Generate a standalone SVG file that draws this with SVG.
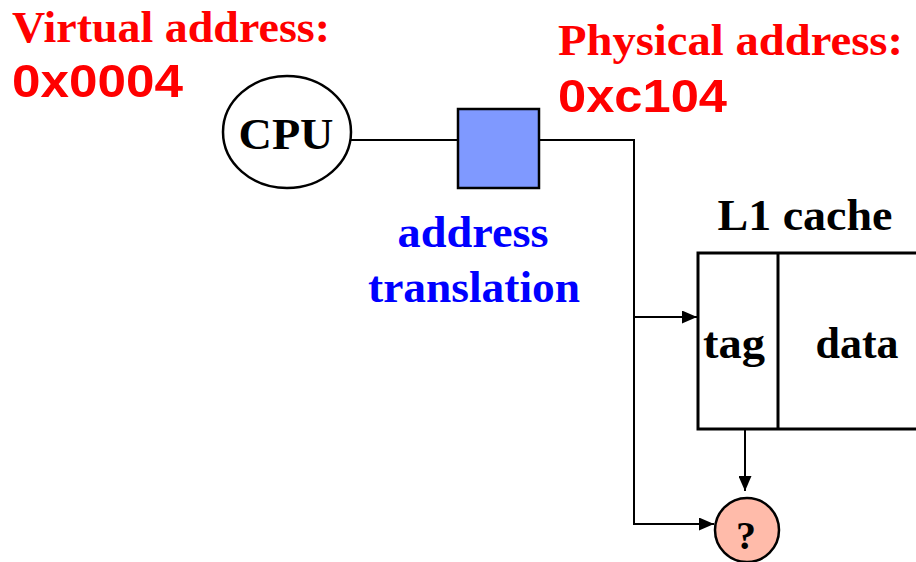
<svg xmlns="http://www.w3.org/2000/svg" width="916" height="562" viewBox="0 0 916 562">
<defs>
<marker id="arr" viewBox="0 0 10 10" refX="10" refY="5" markerWidth="15" markerHeight="13" markerUnits="userSpaceOnUse" orient="auto" preserveAspectRatio="none">
<path d="M0,0 L10,5 L0,10 z" fill="#000"/>
</marker>
<style>
.ser{font-family:"Liberation Serif","Times New Roman",serif;font-weight:bold}
.san{font-family:"Liberation Sans","DejaVu Sans",sans-serif;font-weight:bold}
.red{fill:#ff0000}
.blk{fill:#000}
.blue{fill:#0000ff}
.ln{stroke:#000;stroke-width:2;fill:none}
</style>
</defs>
<rect width="916" height="562" fill="#fff"/>
<g id="labels">
<text class="ser red" x="12" y="42" font-size="45" textLength="318" lengthAdjust="spacingAndGlyphs">Virtual address:</text>
<text class="san red" x="12" y="97" font-size="47" textLength="171" lengthAdjust="spacingAndGlyphs">0x0004</text>
<text class="ser red" x="558" y="55" font-size="45" textLength="345" lengthAdjust="spacingAndGlyphs">Physical address:</text>
<text class="san red" x="558" y="112" font-size="47" textLength="169" lengthAdjust="spacingAndGlyphs">0xc104</text>
</g>
<g id="connectors">
<line class="ln" x1="351" y1="140" x2="458" y2="140"/>
<polyline class="ln" points="539,140 634,140 634,524 699,524"/>
<line class="ln" x1="634" y1="317" x2="697" y2="317" marker-end="url(#arr)"/>
<line class="ln" x1="745" y1="429" x2="745" y2="491" marker-end="url(#arr)"/>
<line class="ln" x1="690" y1="524" x2="714" y2="524" marker-end="url(#arr)"/>
</g>
<g id="cpu">
<ellipse cx="287" cy="132" rx="64" ry="56" fill="#fff" stroke="#000" stroke-width="2.5"/>
<text class="ser blk" x="286" y="149" font-size="44" text-anchor="middle" textLength="95" lengthAdjust="spacingAndGlyphs">CPU</text>
</g>
<g id="translation">
<rect x="458" y="109" width="81" height="79" fill="#7f99ff" stroke="#000" stroke-width="2.5"/>
<text class="ser blue" x="473" y="247" font-size="45" text-anchor="middle" textLength="151" lengthAdjust="spacingAndGlyphs">address</text>
<text class="ser blue" x="474" y="302" font-size="45" text-anchor="middle" textLength="212" lengthAdjust="spacingAndGlyphs">translation</text>
</g>
<g id="cache">
<text class="ser blk" x="805" y="230" font-size="45" text-anchor="middle" textLength="175" lengthAdjust="spacingAndGlyphs">L1 cache</text>
<rect x="698" y="253" width="240" height="176" fill="#fff" stroke="#000" stroke-width="3"/>
<line x1="778" y1="253" x2="778" y2="429" stroke="#000" stroke-width="3"/>
<text class="ser blk" x="734" y="358" font-size="45" text-anchor="middle" textLength="62" lengthAdjust="spacingAndGlyphs">tag</text>
<text class="ser blk" x="857" y="358" font-size="45" text-anchor="middle" textLength="83" lengthAdjust="spacingAndGlyphs">data</text>
</g>
<g id="compare">
<circle cx="747" cy="530" r="32" fill="#ffbbaa" stroke="#000" stroke-width="2.5"/>
<text class="ser blk" x="746" y="549" font-size="40" text-anchor="middle">?</text>
</g>
</svg>
